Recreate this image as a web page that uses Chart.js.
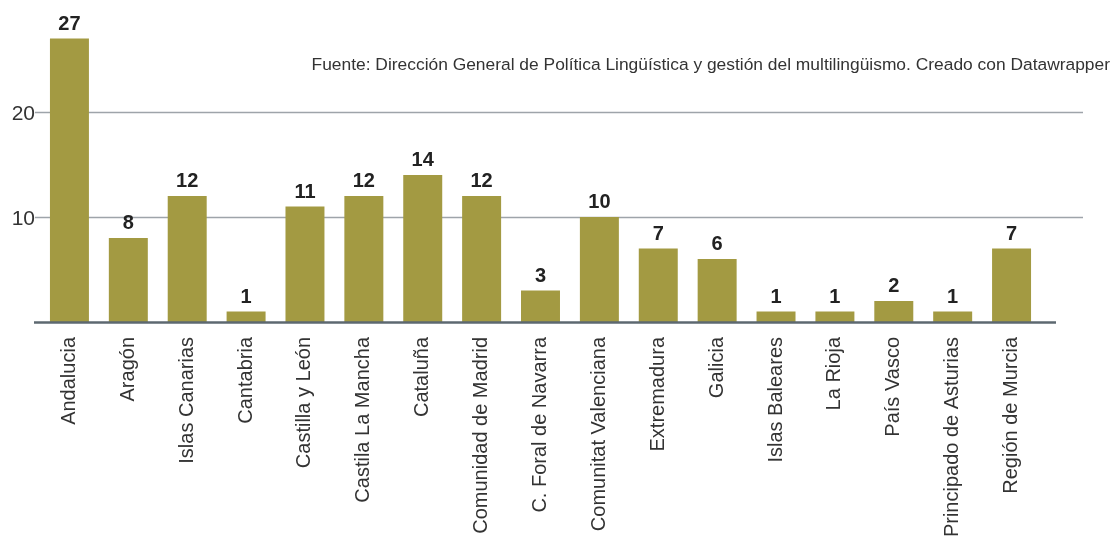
<!DOCTYPE html>
<html>
<head>
<meta charset="utf-8">
<script src="https://cdn.jsdelivr.net/npm/chart.js@4"></script>
<style>
  html, body { margin: 0; padding: 0; background: #fff; }
  #wrap { width: 1114px; height: 540px; }
</style>
</head>
<body>
<div id="wrap"><canvas id="chart" width="1114" height="540"></canvas></div>
<script>
// Datos
const regiones = ['Andalucia', 'Aragón', 'Islas Canarias', 'Cantabria', 'Castilla y León',
  'Castila La Mancha', 'Cataluña', 'Comunidad de Madrid', 'C. Foral de Navarra',
  'Comunitat Valenciana', 'Extremadura', 'Galicia', 'Islas Baleares', 'La Rioja',
  'País Vasco', 'Principado de Asturias', 'Región de Murcia'];
const valores = [27, 8, 12, 1, 11, 12, 14, 12, 3, 10, 7, 6, 1, 1, 2, 1, 7];
const ticksY = [10, 20];
const fuente = 'Fuente: Dirección General de Política Lingüística y gestión del multilingüismo. Creado con Datawrapper';

const FONT = '"Liberation Sans", Arial, sans-serif';

// Líneas de referencia, eje y textos
const decoracion = {
    id: 'decoracion',
    beforeDatasetsDraw(chart) {
        const ctx = chart.ctx;
        const y = chart.scales.y;
        ctx.save();
        ctx.strokeStyle = '#9ea4aa';
        ctx.lineWidth = 1.5;
        ctx.fillStyle = '#333';
        ctx.font = '21px ' + FONT;
        ctx.textAlign = 'right';
        ctx.textBaseline = 'middle';
        ticksY.forEach(t => {
            const py = Math.round(y.getPixelForValue(t)) + 0.5;
            ctx.beginPath();
            ctx.moveTo(35, py);
            ctx.lineTo(1083, py);
            ctx.stroke();
            ctx.fillText(String(t), 35, py + 2);
        });
        // fuente
        ctx.font = '17.4px ' + FONT;
        ctx.textBaseline = 'alphabetic';
        ctx.fillText(fuente, 1110, 70);
        ctx.restore();
    },
    afterDatasetsDraw(chart) {
        const ctx = chart.ctx;
        const y = chart.scales.y;
        ctx.save();
        // eje inferior
        const y0 = y.getPixelForValue(0);
        ctx.strokeStyle = '#5d6870';
        ctx.lineWidth = 2.5;
        ctx.beginPath();
        ctx.moveTo(34, y0 + 0.5);
        ctx.lineTo(1056, y0 + 0.5);
        ctx.stroke();
        // etiquetas de valores
        ctx.fillStyle = '#222';
        ctx.font = 'bold 20px ' + FONT;
        ctx.textAlign = 'center';
        ctx.textBaseline = 'alphabetic';
        chart.getDatasetMeta(0).data.forEach((bar, i) => {
            ctx.fillText(String(valores[i]), bar.x, bar.y - 9);
        });
        ctx.restore();
    }
};

const ctx = document.getElementById('chart').getContext('2d');
new Chart(ctx, {
    type: 'bar',
    data: {
        labels: regiones,
        datasets: [{
            data: valores,
            backgroundColor: '#a39a42',
            borderWidth: 0,
            categoryPercentage: 1,
            barPercentage: 0.662
        }]
    },
    options: {
        responsive: false,
        animation: false,
        layout: { padding: { left: 40, right: 73, top: 7, bottom: 0 } },
        plugins: {
            legend: { display: false },
            tooltip: { enabled: false }
        },
        scales: {
            x: {
                grid: { display: false },
                border: { display: false },
                ticks: {
                    color: '#333',
                    font: { family: FONT, size: 20 },
                    minRotation: 90,
                    maxRotation: 90,
                    padding: 7,
                    autoSkip: false
                },
                afterFit(scale) { scale.height = 218; }
            },
            y: {
                display: false,
                min: 0,
                max: 30
            }
        }
    },
    plugins: [decoracion]
});
</script>
</body>
</html>
